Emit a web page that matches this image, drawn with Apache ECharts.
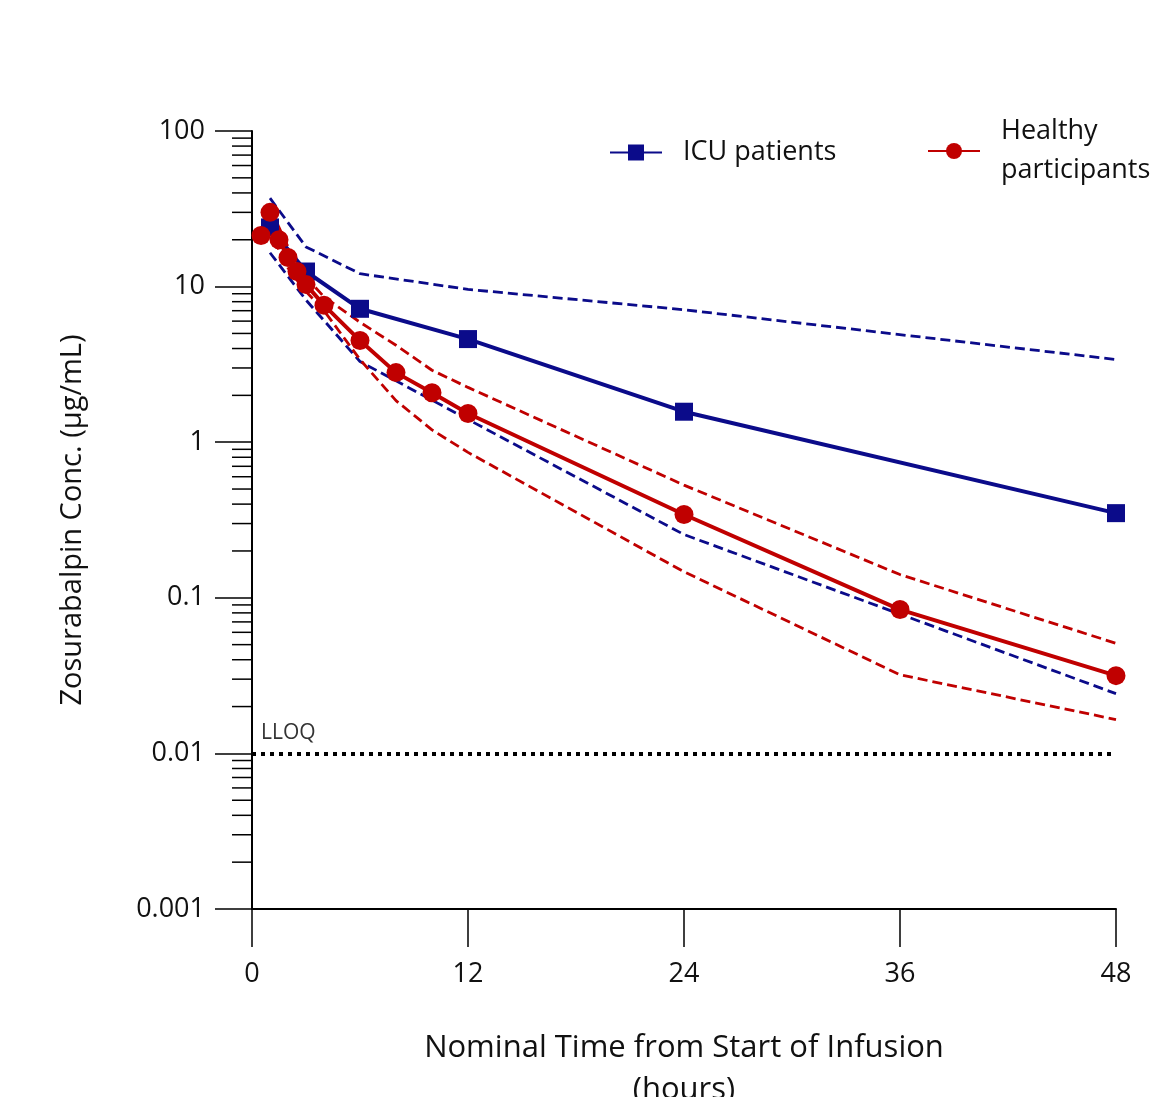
<!DOCTYPE html>
<html>
<head>
<meta charset="utf-8">
<script src="https://cdn.jsdelivr.net/npm/echarts@6/dist/echarts.min.js"></script>
<style>
    html, body { margin: 0; padding: 0; background: #fff; }
    #chart { width: 1151px; height: 1097px; }
</style>
</head>
<body>
<div id="chart"></div>
<script>
    // data (time in hours, conc in µg/mL)
    var icuTime = [1, 3, 6, 12, 24, 48];
    var icuMedian = [24, 12.5, 7.2, 4.6, 1.57, 0.35];
    var icuUpper = [37, 18, 12.1, 9.6, 7.1, 3.4];
    var icuLower = [16.5, 8.2, 3.3, 1.4, 0.255, 0.0242];

    var hpTime = [0.5, 1, 1.5, 2, 2.5, 3, 4, 6, 8, 10, 12, 24, 36, 48];
    var hpMedian = [21.3, 30, 20, 15.4, 12.5, 10.3, 7.6, 4.5, 2.8, 2.08, 1.53, 0.343, 0.084, 0.0316];
    var hpUpper = [23, 33, 24, 18, 14, 11.5, 8.6, 5.9, 4.2, 2.9, 2.25, 0.53, 0.141, 0.051];
    var hpLower = [19.5, 27, 17, 13.2, 11, 9.3, 7.0, 3.4, 1.85, 1.2, 0.86, 0.147, 0.032, 0.0165];

    var lloq = 0.01;
    var xTicks = [0, 12, 24, 36, 48];
    var yLabels = ['0.001', '0.01', '0.1', '1', '10', '100'];

    var navy = '#0b0b8a';
    var red = '#c00000';

    function pairs(xs, ys) {
        return xs.map(function (x, i) { return [x, ys[i]]; });
    }

    // minor ticks 2..9 x 10^k for the log axis
    var minorTicks = [];
    for (var k = -3; k < 2; k++) {
        for (var m = 2; m <= 9; m++) {
            minorTicks.push([0, m * Math.pow(10, k)]);
        }
    }

    var chart = echarts.init(document.getElementById('chart'));
    var font = '"Open Sans", "Noto Sans", sans-serif';
    var legendText = { fontSize: 27, color: '#111', lineHeight: 39, fontFamily: font, padding: [0, 0, 0, 16] };

    chart.setOption({
        backgroundColor: '#fff',
        animation: false,
        textStyle: { fontFamily: font },
        grid: { left: 252, right: 35, top: 131, bottom: 188, outerBoundsMode: 'none', containLabel: false },
        legend: [
            {
                left: 604,
                top: 128,
                itemWidth: 52,
                itemHeight: 20,
                data: ['ICU patients'],
                textStyle: legendText
            },
            {
                left: 922,
                top: 107,
                width: 400,
                itemWidth: 52,
                itemHeight: 20,
                data: ['Healthy participants'],
                formatter: function () { return 'Healthy\nparticipants'; },
                textStyle: legendText
            }
        ],
        xAxis: {
            type: 'value',
            min: 0,
            max: 48,
            interval: 12,
            name: 'Nominal Time from Start of Infusion\n(hours)',
            nameLocation: 'middle',
            nameGap: 118,
            nameTextStyle: { fontSize: 31, color: '#111', lineHeight: 42, fontFamily: font },
            axisLine: { lineStyle: { color: '#000', width: 2 } },
            axisTick: { length: 38, lineStyle: { color: '#000', width: 1.5 } },
            axisLabel: {
                margin: 52, fontSize: 27, color: '#111', fontFamily: font,
                formatter: function (v) { return xTicks.indexOf(v) >= 0 ? String(v) : ''; }
            },
            splitLine: { show: false }
        },
        yAxis: {
            type: 'log',
            min: 0.001,
            max: 100,
            logBase: 10,
            name: 'Zosurabalpin Conc. (μg/mL)',
            nameLocation: 'middle',
            nameGap: 165,
            nameTextStyle: { fontSize: 29, color: '#111', fontFamily: font },
            axisLine: { lineStyle: { color: '#000', width: 2 } },
            axisTick: { length: 37, lineStyle: { color: '#000', width: 1.5 } },
            axisLabel: {
                margin: 47, fontSize: 27, color: '#111', fontFamily: font,
                formatter: function (v) {
                    var idx = Math.round(Math.log10(v)) + 3;
                    return yLabels[idx] || '';
                }
            },
            splitLine: { show: false }
        },
        series: [
            {
                type: 'custom',
                silent: true,
                clip: false,
                z: 1,
                data: minorTicks,
                renderItem: function (params, api) {
                    var p = api.coord([api.value(0), api.value(1)]);
                    return {
                        type: 'line',
                        shape: { x1: p[0] - 20, y1: p[1], x2: p[0], y2: p[1] },
                        style: { stroke: '#000', lineWidth: 1.5 }
                    };
                }
            },
            {
                name: 'LLOQ',
                type: 'line',
                data: [],
                silent: true,
                markLine: {
                    silent: true,
                    symbol: 'none',
                    data: [{ yAxis: lloq }],
                    lineStyle: { color: '#000', width: 4, type: [4, 5] },
                    label: {
                        show: true, position: 'insideStartTop', distance: [9, 10],
                        formatter: 'LLOQ', fontSize: 21, color: '#333', fontFamily: font
                    }
                }
            },
            {
                name: 'ICU upper',
                type: 'line',
                data: pairs(icuTime, icuUpper),
                symbol: 'none',
                silent: true,
                lineStyle: { color: navy, width: 2.8, type: [10, 5] }
            },
            {
                name: 'ICU lower',
                type: 'line',
                data: pairs(icuTime, icuLower),
                symbol: 'none',
                silent: true,
                lineStyle: { color: navy, width: 2.8, type: [10, 5] }
            },
            {
                name: 'ICU patients',
                type: 'line',
                data: pairs(icuTime, icuMedian),
                symbol: 'rect',
                symbolSize: 18,
                itemStyle: { color: navy },
                lineStyle: { color: navy, width: 4 }
            },
            {
                name: 'Healthy upper',
                type: 'line',
                data: pairs(hpTime, hpUpper),
                symbol: 'none',
                silent: true,
                lineStyle: { color: red, width: 2.8, type: [10, 5] }
            },
            {
                name: 'Healthy lower',
                type: 'line',
                data: pairs(hpTime, hpLower),
                symbol: 'none',
                silent: true,
                lineStyle: { color: red, width: 2.8, type: [10, 5] }
            },
            {
                name: 'Healthy participants',
                type: 'line',
                data: pairs(hpTime, hpMedian),
                symbol: 'circle',
                symbolSize: 19,
                itemStyle: { color: red },
                lineStyle: { color: red, width: 4 }
            }
        ]
    });
</script>
</body>
</html>
